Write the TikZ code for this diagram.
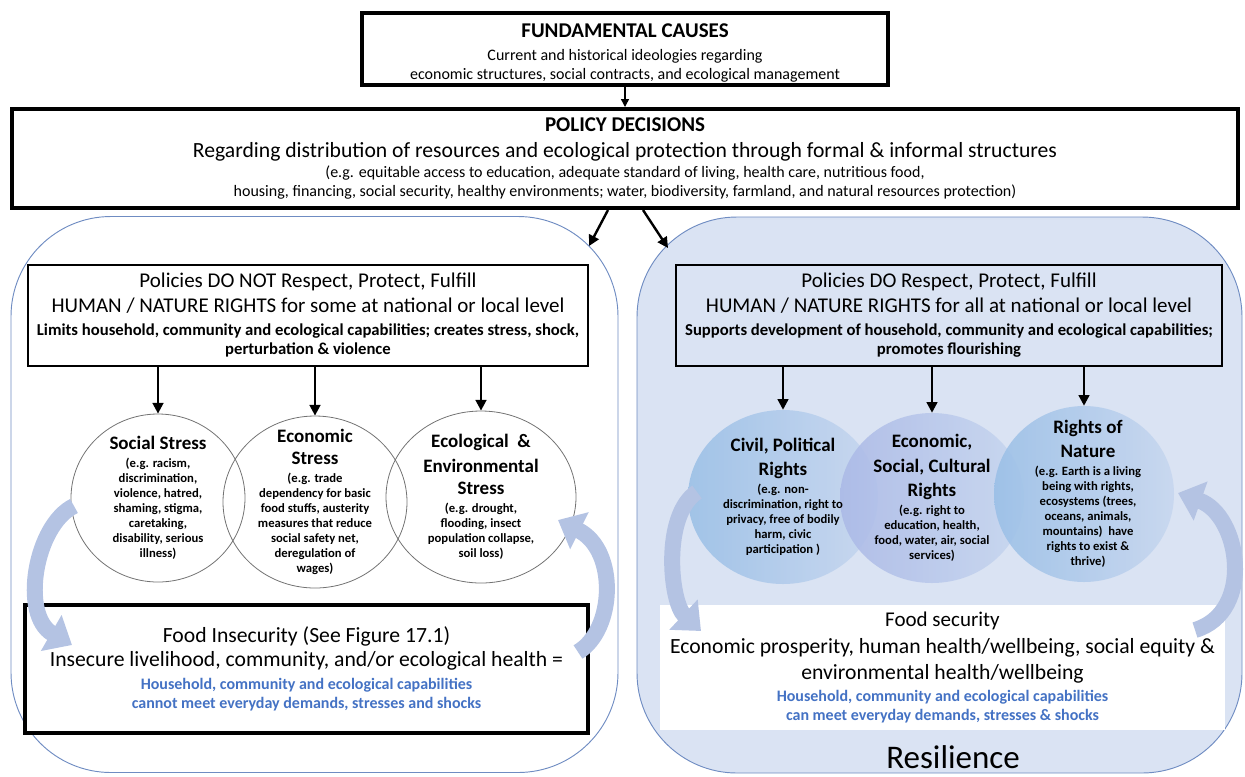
\documentclass[tikz,border=0pt]{standalone}
\usepackage{fontspec}
\setmainfont{Carlito}
\usetikzlibrary{shapes.geometric, arrows.meta, positioning}

\definecolor{panelfill}{HTML}{DAE3F3}
\definecolor{paneledge}{HTML}{6F8CC2}
\definecolor{loopcol}{HTML}{B4C3E3}
\definecolor{capcol}{HTML}{4472C4}
\definecolor{rightsdark}{HTML}{98BEE6}
\definecolor{rightslight}{HTML}{C6D6EF}
\definecolor{rightsmid}{HTML}{AAB8E6}

% font sizes (figure px times 0.75)
\newcommand{\fsbig}{\fontsize{15.75}{19.5}\selectfont}
\newcommand{\fsreg}{\fontsize{16.25}{20}\selectfont}
\newcommand{\fsmid}{\fontsize{12}{14.25}\selectfont}
\newcommand{\fshed}{\fontsize{12.5}{14.25}\selectfont}
\newcommand{\fscap}{\fontsize{14.25}{17.25}\selectfont}
\newcommand{\fssml}{\fontsize{9.5}{11.25}\selectfont}
\newcommand{\fsres}{\fontsize{24.75}{30}\selectfont}

\tikzset{
  heavybox/.style={draw, line width=3pt, fill=white, align=center, inner sep=0pt},
  headbox/.style={draw, line width=0.9pt, align=center, inner sep=0pt},
  panel/.style={draw=paneledge, line width=0.7pt, rounded corners=75pt, inner sep=0pt},
  stress/.style={ellipse, draw=black!55, line width=0.6pt, inner sep=0pt},
  rights/.style={ellipse, inner sep=0pt, fill opacity=0.85, left color=rightsdark, right color=rightslight},
  ctext/.style={align=center, inner sep=0pt, font=\fssml\bfseries},
  droparrow/.style={-{Triangle[length=8pt,width=8pt]}, line width=1.8pt},
  cyclearrow/.style={draw=loopcol, line width=12pt, -{Triangle[length=18pt,width=30pt]}},
}

\begin{document}
\begin{tikzpicture}[x=0.75pt, y=-0.75pt]
\useasboundingbox (0,0) rectangle (1245,776);

% the two outcome panels
\node[panel, minimum width=455.25pt, minimum height=417pt] (lpanel) at (314.5,494.5) {};
\node[panel, fill=panelfill, minimum width=453.75pt, minimum height=417pt] (rpanel) at (939.5,495) {};

% causes and policy
\node[heavybox, minimum width=394.5pt, minimum height=54pt] (causes) at (625,49) {};
\node[align=center, font=\fsmid] (causestext) at (625,52.5)
  {{\fsbig\bfseries FUNDAMENTAL CAUSES}\\[3pt]
   Current and historical ideologies regarding\\
   economic structures, social contracts, and ecological management};
\node[heavybox, font=\fsmid, minimum width=919.5pt, minimum height=74.25pt] (policy) at (625,158.5)
  {{\fsbig\bfseries POLICY DECISIONS}\\[5.5pt]
   {\fsreg Regarding distribution of resources and ecological protection through formal \& informal structures}\\[0.75pt]
   (e.g. equitable access to education, adequate standard of living, health care, nutritious food,\\
   housing, financing, social security, healthy environments; water, biodiversity, farmland, and natural resources protection)};
\draw[-{Triangle[length=6pt,width=6pt]}, line width=1.1pt] (causes) -- (policy);

\coordinate (ltip) at (589,246);
\coordinate (rtip) at (668,248);
\draw[droparrow] (policy.south) ++(-17,0) -- (ltip);
\draw[droparrow] (policy.south) ++(18,0) -- (rtip);

% rights headers
\node[headbox, fill=white, font=\fshed\bfseries, minimum width=420pt, minimum height=75.75pt] (lhead) at (308,315.5)
  {{\fsbig\mdseries Policies DO NOT Respect, Protect, Fulfill}\\[4.5pt]
   {\fsbig\mdseries HUMAN / NATURE RIGHTS for some at national or local level}\\[3pt]
   Limits household, community and ecological capabilities; creates stress, shock,\\
   perturbation \& violence};
\node[headbox, fill=panelfill, font=\fshed\bfseries, minimum width=409.5pt, minimum height=75.75pt] (rhead) at (949,315.5)
  {{\fsbig\mdseries Policies DO Respect, Protect, Fulfill}\\[4.5pt]
   {\fsbig\mdseries HUMAN / NATURE RIGHTS for all at national or local level}\\[3pt]
   Supports development of household, community and ecological capabilities;\\
   promotes flourishing};

% stress circles
\node[stress, minimum width=130.5pt, minimum height=126pt] (soc) at (158,498) {};
\node[stress, minimum width=138pt, minimum height=129pt] (eco) at (315,502) {};
\node[stress, minimum width=142.5pt, minimum height=129pt] (env) at (481,497) {};
\node[ctext] (soct) at (soc)
  {{\fscap Social Stress}\\[2.25pt]
   (e.g. racism,\\ discrimination,\\ violence, hatred,\\ shaming, stigma,\\ caretaking,\\ disability, serious\\ illness)};
\node[ctext] (ecot) at (eco)
  {{\fscap Economic}\\[5.25pt]
   {\fscap Stress}\\[2.25pt]
   (e.g. trade\\ dependency for basic\\ food stuffs, austerity\\ measures that reduce\\ social safety net,\\ deregulation of\\ wages)};
\node[ctext] (envt) at (env)
  {{\fscap Ecological \ \&}\\[5.25pt]
   {\fscap Environmental}\\[5.25pt]
   {\fscap Stress}\\[2.25pt]
   (e.g. drought,\\ flooding, insect\\ population collapse,\\ soil loss)};

% rights circles
\node[rights, minimum width=142.5pt, minimum height=130.5pt] (civ) at (783,497) {};
\node[rights, left color=rightsmid, minimum width=138pt, minimum height=127.5pt] (esc) at (932,498) {};
\node[rights, minimum width=135pt, minimum height=132pt] (nat) at (1084,494) {};
\node[ctext] (civt) at (civ)
  {{\fscap Civil, Political}\\[5.25pt]
   {\fscap Rights}\\[2.25pt]
   (e.g. non-\\ discrimination, right to\\ privacy, free of bodily\\ harm, civic\\ participation )};
\node[ctext] (esct) at (esc)
  {{\fscap Economic,}\\[5.25pt]
   {\fscap Social, Cultural}\\[5.25pt]
   {\fscap Rights}\\[2.25pt]
   (e.g. right to\\ education, health,\\ food, water, air, social\\ services)};
\node[ctext] (natt) at ([xshift=3pt]nat)
  {{\fscap Rights of}\\[5.25pt]
   {\fscap Nature}\\[2.25pt]
   (e.g. Earth is a living\\ being with rights,\\ ecosystems (trees,\\ oceans, animals,\\ mountains) \ have\\ rights to exist \&\\ thrive)};

\foreach \c in {soc,eco,env}
  \draw[droparrow] (lhead.south -| \c.north) -- (\c.north);
\foreach \c in {civ,esc,nat}
  \draw[droparrow] (rhead.south -| \c.north) -- (\c.north);

% outcomes
\node[heavybox, font=\fsmid\bfseries, minimum width=422.25pt, minimum height=96pt] (insec) at (306.5,669)
  {{\fsreg\mdseries Food Insecurity (See Figure 17.1)}\\[4pt]
   {\fsreg\mdseries Insecure livelihood, community, and/or ecological health =}\\[3pt]
   \textcolor{capcol}{Household, community and ecological capabilities}\\
   \textcolor{capcol}{cannot meet everyday demands, stresses and shocks}};
\node[fill=white, align=center, inner sep=0pt, font=\fsmid\bfseries, minimum width=423.75pt, minimum height=93.75pt] (secure) at (942.5,667.5)
  {{\fsbig\mdseries Food security}\\[6pt]
   {\fsreg\mdseries Economic prosperity, human health/wellbeing, social equity \&}\\[5pt]
   {\fsreg\mdseries environmental health/wellbeing}\\[2pt]
   \textcolor{capcol}{Household, community and ecological capabilities}\\
   \textcolor{capcol}{can meet everyday demands, stresses \& shocks}};
\node[font=\fsres] (resil) at (953,757) {Resilience};

% feedback arrows
\coordinate (la0) at (74,506);
\coordinate (la1) at (72,645);
\coordinate (lb0) at (578,652);
\coordinate (lb1) at (558,520);
\coordinate (ra0) at (697,492);
\coordinate (ra1) at (701,631);
\coordinate (rb0) at (1195,630);
\coordinate (rb1) at (1178,493);
\draw[cyclearrow] (la0) .. controls (35,525) and (20,615) .. (la1);
\draw[cyclearrow] (lb0) .. controls (615,630) and (618,550) .. (lb1);
\draw[cyclearrow] (ra0) .. controls (662,515) and (670,602) .. (ra1);
\draw[cyclearrow] (rb0) .. controls (1255,612) and (1240,515) .. (rb1);
\end{tikzpicture}
\end{document}
